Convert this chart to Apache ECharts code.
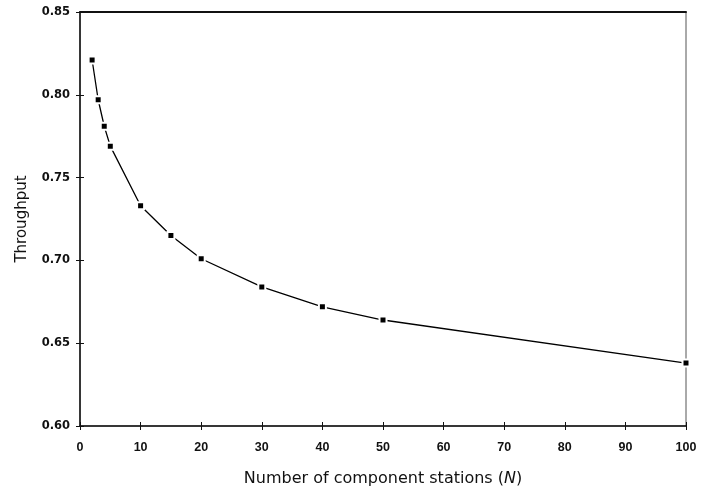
<!DOCTYPE html>
<html>
<head>
<meta charset="utf-8">
<script src="https://cdn.jsdelivr.net/npm/echarts@6/dist/echarts.min.js"></script>
<style>html,body{margin:0;padding:0;background:#fff}#c{width:713px;height:492px}</style>
</head>
<body>
<div id="c"></div>
<script>
const stations = [2, 3, 4, 5, 10, 15, 20, 30, 40, 50, 100];
const throughput = [0.821, 0.797, 0.781, 0.769, 0.733, 0.715, 0.701, 0.684, 0.672, 0.664, 0.638];
const xTicks = [0, 10, 20, 30, 40, 50, 60, 70, 80, 90, 100];
const yTicks = [0.60, 0.65, 0.70, 0.75, 0.80, 0.85];

const chart = echarts.init(document.getElementById('c'));
const lib = 'Liberation Sans, Arial, sans-serif';
const dv = 'DejaVu Sans, sans-serif';
const xMin = xTicks[0], xMax = xTicks[xTicks.length - 1];
const yMin = yTicks[0], yMax = yTicks[yTicks.length - 1];
chart.setOption({
  animation: false,
  backgroundColor: '#fff',
  grid: { left: 80, right: 27, top: 12, bottom: 65, show: true, borderColor: '#555', borderWidth: 1 },
  xAxis: [{
    type: 'value', min: xMin, max: xMax, interval: 10,
    name: 'Number of component stations ({i|N})', nameLocation: 'middle', nameGap: 45,
    nameTextStyle: { color: '#111', fontSize: 16, fontFamily: dv, rich: { i: { fontStyle: 'italic', fontSize: 16, fontFamily: dv, color: '#111' } } },
    axisLine: { lineStyle: { color: '#111', width: 1.5 } },
    axisTick: { show: true, length: 4, lineStyle: { color: '#111' } },
    axisLabel: { color: '#111', fontSize: 12.5, fontWeight: 'bold', fontFamily: lib, margin: 15, formatter: v => String(v) },
    splitLine: { show: false }
  }, {
    type: 'value', min: xMin, max: xMax, interval: 10, position: 'bottom',
    axisLine: { show: false }, axisLabel: { show: false }, splitLine: { show: false },
    axisTick: { show: true, inside: true, length: 4, lineStyle: { color: '#111' } }
  }, {
    type: 'value', min: xMin, max: xMax, interval: 10, position: 'top',
    axisLine: { show: true, lineStyle: { color: '#111', width: 2 } },
    axisLabel: { show: false }, splitLine: { show: false }, axisTick: { show: false }
  }],
  yAxis: [{
    type: 'value', min: yMin, max: yMax, interval: 0.05,
    name: 'Throughput', nameLocation: 'middle', nameGap: 50, nameRotate: 90,
    nameTextStyle: { color: '#111', fontSize: 15, fontFamily: dv },
    axisLine: { show: true, lineStyle: { color: '#111', width: 1.5 } },
    axisTick: { show: true, length: 4, lineStyle: { color: '#111' } },
    axisLabel: { color: '#111', fontSize: 11.5, fontWeight: 'bold', fontFamily: dv, margin: 10, formatter: v => v.toFixed(2) },
    splitLine: { show: false }
  }, {
    type: 'value', min: yMin, max: yMax, interval: 0.05, position: 'left',
    axisLine: { show: false }, axisLabel: { show: false }, splitLine: { show: false },
    axisTick: { show: true, inside: true, length: 4, lineStyle: { color: '#111' } }
  }],
  series: [{
    type: 'line',
    data: stations.map((x, i) => [x, throughput[i]]),
    symbol: 'rect', symbolSize: 7,
    itemStyle: { color: '#000', borderColor: '#fff', borderWidth: 2 },
    lineStyle: { color: '#000', width: 1.3 },
    z: 3
  }]
});
</script>
</body>
</html>
